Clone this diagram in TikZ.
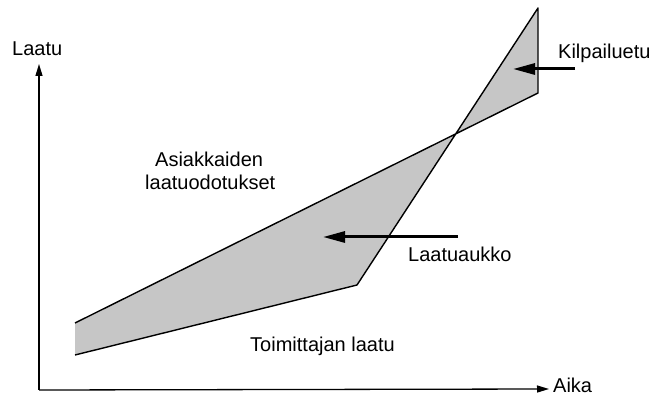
\documentclass[tikz,border=0pt]{standalone}
\usepackage{fontspec}
\setmainfont{Liberation Sans}
\usetikzlibrary{arrows.meta}
\definecolor{bandgray}{RGB}{198,198,198}
\begin{document}
\begin{tikzpicture}[x=1pt,y=-1pt,
  lbl/.style={font=\fontsize{20}{23}\selectfont, inner sep=0pt, anchor=base west},
  axis/.style={line width=1.3pt, -{Triangle[length=12pt,width=7pt]}},
  pointer/.style={line width=3pt, -{Triangle[length=22pt,width=11pt]}},
  band/.style={fill=bandgray},
  edge/.style={line width=1.4pt, line join=round}]
\useasboundingbox (0,0) rectangle (657,398);
% geometry
\coordinate (O) at (39,390);
\coordinate (ytip) at (39,64);
\coordinate (xtip) at (549,389);
\coordinate (eL) at (75,323);
\coordinate (eR) at (538,93);
\coordinate (sT) at (538,8);
\coordinate (sK) at (357,285);
\coordinate (sL) at (75,355);
\coordinate (p1s) at (458,237);
\coordinate (p1e) at (323,237);
\coordinate (p2s) at (575,69);
\coordinate (p2e) at (513,69);
% band
\fill[band] (eL) -- (eR) -- (sT) -- (sK) -- (sL) -- cycle;
\draw[edge] (eL) -- (eR) -- (sT) -- (sK) -- (sL);
% axes
\draw[axis] (O) -- (ytip);
\draw[axis] (O) -- (xtip);
% pointers
\draw[pointer] (p1s) -- (p1e);
\draw[pointer] (p2s) -- (p2e);
% labels
\node[lbl] (laatu) at (12,56) {Laatu};
\node[lbl] (aika) at (553,393) {Aika};
\node[lbl] (kilp) at (558,59) {Kilpailuetu};
\node[lbl] (asiak) at (155,167) {Asiakkaiden};
\node[lbl] (odot) at (145,190) {laatuodotukset};
\node[lbl] (aukko) at (408,262) {Laatuaukko};
\node[lbl] (toim) at (250,352) {Toimittajan laatu};
\end{tikzpicture}
\end{document}
